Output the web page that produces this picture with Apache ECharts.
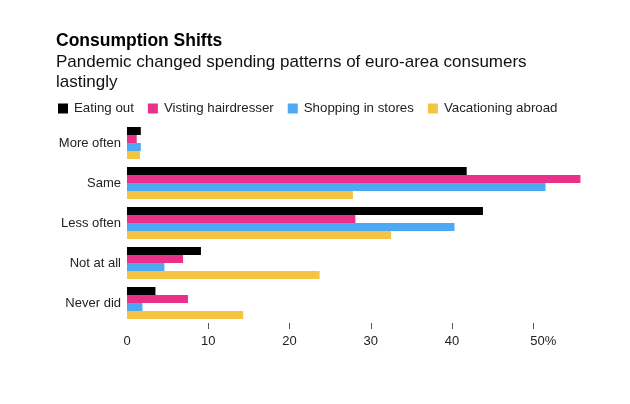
<!DOCTYPE html>
<html>
<head>
<meta charset="utf-8">
<script src="https://cdn.jsdelivr.net/npm/echarts@6/dist/echarts.min.js"></script>
<style>
html,body{margin:0;padding:0;background:#fff;}
#chart{width:630px;height:404px;}
</style>
</head>
<body>
<div id="chart"></div>
<script>
var categories = ['More often', 'Same', 'Less often', 'Not at all', 'Never did'];
var eatingOut = [1.7, 41.8, 43.8, 9.1, 3.5];
var hairdresser = [1.2, 55.8, 28.1, 6.9, 7.5];
var shopping = [1.7, 51.5, 40.3, 4.6, 1.9];
var vacation = [1.6, 27.8, 32.5, 23.7, 14.3];
var seriesNames = ['Eating out', 'Visting hairdresser', 'Shopping in stores', 'Vacationing abroad'];
var colors = ['#000000', '#E9318A', '#4DA9F4', '#F6C443'];
var tickValues = [0, 10, 20, 30, 40, 50];

var FONT = '"Liberation Sans", Arial, Helvetica, sans-serif';
var chart = echarts.init(document.getElementById('chart'), null, {renderer: 'canvas'});
var dataSets = [eatingOut, hairdresser, shopping, vacation];

var option = {
  backgroundColor: '#ffffff',
  animation: false,
  textStyle: {fontFamily: FONT},
  title: {
    left: 56, top: 32, padding: 0,
    text: 'Consumption Shifts',
    textStyle: {fontFamily: FONT, fontSize: 17.5, fontWeight: 'bold', color: '#000', lineHeight: 18},
    subtext: 'Pandemic changed spending patterns of euro-area consumers\nlastingly',
    subtextStyle: {fontFamily: FONT, fontSize: 17, color: '#111', lineHeight: 20},
    itemGap: 2
  },
  legend: {
    left: 58, top: 102, padding: 0,
    icon: 'rect', itemWidth: 10, itemHeight: 10, itemGap: 14,
    textStyle: {fontFamily: FONT, fontSize: 13.3, color: '#222', padding: [0, 0, 0, 1]},
    data: seriesNames
  },
  grid: {left: 127, top: 123, height: 200, width: 487.6, containLabel: false},
  xAxis: {
    type: 'value', min: 0, max: 60, interval: 10,
    splitLine: {show: false},
    axisLine: {show: false},
    axisTick: {show: true, length: 6, lineStyle: {color: '#555', width: 1}, customValues: [10, 20, 30, 40, 50]},
    axisLabel: {
      customValues: tickValues,
      margin: 12, fontFamily: FONT, fontSize: 13, color: '#222',
      formatter: function (v) { return v === 50 ? '{p|50%}' : String(v); },
      rich: {p: {fontFamily: FONT, fontSize: 13, color: '#222', padding: [0, 0, 0, 20]}}
    }
  },
  yAxis: {
    type: 'category', data: categories, inverse: true,
    axisLine: {show: false}, axisTick: {show: false},
    axisLabel: {margin: 6, fontFamily: FONT, fontSize: 13, color: '#222'}
  },
  series: seriesNames.map(function (n, i) {
    return {
      name: n, type: 'bar', data: dataSets[i],
      itemStyle: {color: colors[i]},
      barGap: '0%', barCategoryGap: '20%'
    };
  })
};
chart.setOption(option);
</script>
</body>
</html>
